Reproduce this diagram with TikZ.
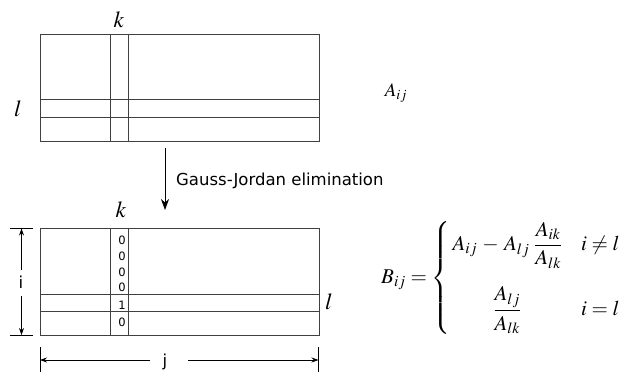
\documentclass[tikz,border=0pt]{standalone}
\usepackage[no-math]{fontspec}
\usepackage{mathptmx}
\newfontfamily\comicf{DejaVu Sans}
\usetikzlibrary{arrows.meta}
\tikzset{
  grid/.style={draw=black!75, line width=0.8pt},
  dimarrow/.style={line width=0.7pt, -{Stealth[length=7pt,width=5pt]}},
  dimtick/.style={line width=0.7pt},
  bigmath/.style={inner sep=0pt, font=\fontsize{23}{27}\selectfont},
  captext/.style={inner sep=0pt, font=\comicf\fontsize{16.5}{19}\selectfont},
  celltext/.style={inner sep=0pt, font=\comicf\fontsize{11.5}{13}\selectfont},
}
\begin{document}
\begin{tikzpicture}[x=1pt,y=-1pt]
\useasboundingbox (0,0) rectangle (625,372);
% top matrix
\draw[grid] (40,34.5) rectangle (319,141.5);
\draw[grid] (110.7,34.5) -- (110.7,141.5) (128.7,34.5) -- (128.7,141.5);
\draw[grid] (40,99.3) -- (319,99.3) (40,117.3) -- (319,117.3);
\node[bigmath] (k1) at (119,20) {$k$};
\node[bigmath] (l1) at (18,109) {$l$};
\node[inner sep=0pt, font=\fontsize{19}{22}\selectfont] (aij) at (396,93) {$A_{ij}$};
% arrow
\coordinate (ga) at (165,148);
\coordinate (gb) at (165,210);
\draw[line width=0.7pt,-{Stealth[length=11pt,width=8pt]}] (ga) -- (gb);
\node[captext, anchor=west] (gj) at (176,181) {Gauss-Jordan elimination};
% bottom matrix
\draw[grid] (40,228.5) rectangle (319,335);
\draw[grid] (110.7,228.5) -- (110.7,335) (128.7,228.5) -- (128.7,335);
\draw[grid] (40,294) -- (319,294) (40,311.7) -- (319,311.7);
\node[bigmath] (k2) at (121,210) {$k$};
\node[bigmath] (l2) at (329,302) {$l$};
\foreach \y/\t [count=\n] in {240/0,256/0,272/0,287.5/0,305/1,322/0}
  \node[celltext] (c\n) at (122,\y) {\t};
% i dimension
\draw[dimtick] (10,228.5) -- (33,228.5) (10,335) -- (33,335);
\node[captext] (ilab) at (21,282) {i};
\coordinate (itop) at (21.5,228.5);
\coordinate (ibot) at (21.5,335);
\draw[dimarrow] (21.5,270) -- (itop);
\draw[dimarrow] (21.5,296) -- (ibot);
% j dimension
\draw[dimtick] (40,347) -- (40,372) (318.5,347) -- (318.5,372);
\node[captext] (jlab) at (165,362) {j};
\coordinate (jl) at (40,360);
\coordinate (jr) at (318.5,360);
\draw[dimarrow] (150,360) -- (jl);
\draw[dimarrow] (188,360) -- (jr);
% formula
\node[inner sep=0pt, anchor=west, font=\fontsize{21}{24}\selectfont] (bij) at (381,278)
 {$B_{ij}=\left\{\renewcommand{\arraystretch}{1}\begin{array}{@{\,}c@{\hspace{19pt}}l@{}}
   A_{ij}\,-\,A_{lj}\;{\displaystyle\frac{A_{ik}}{A_{lk}}} & i\neq l\\[29pt]
   {\displaystyle\frac{A_{lj}}{A_{lk}}} & i=l
   \end{array}\right.$};
\end{tikzpicture}
\end{document}
